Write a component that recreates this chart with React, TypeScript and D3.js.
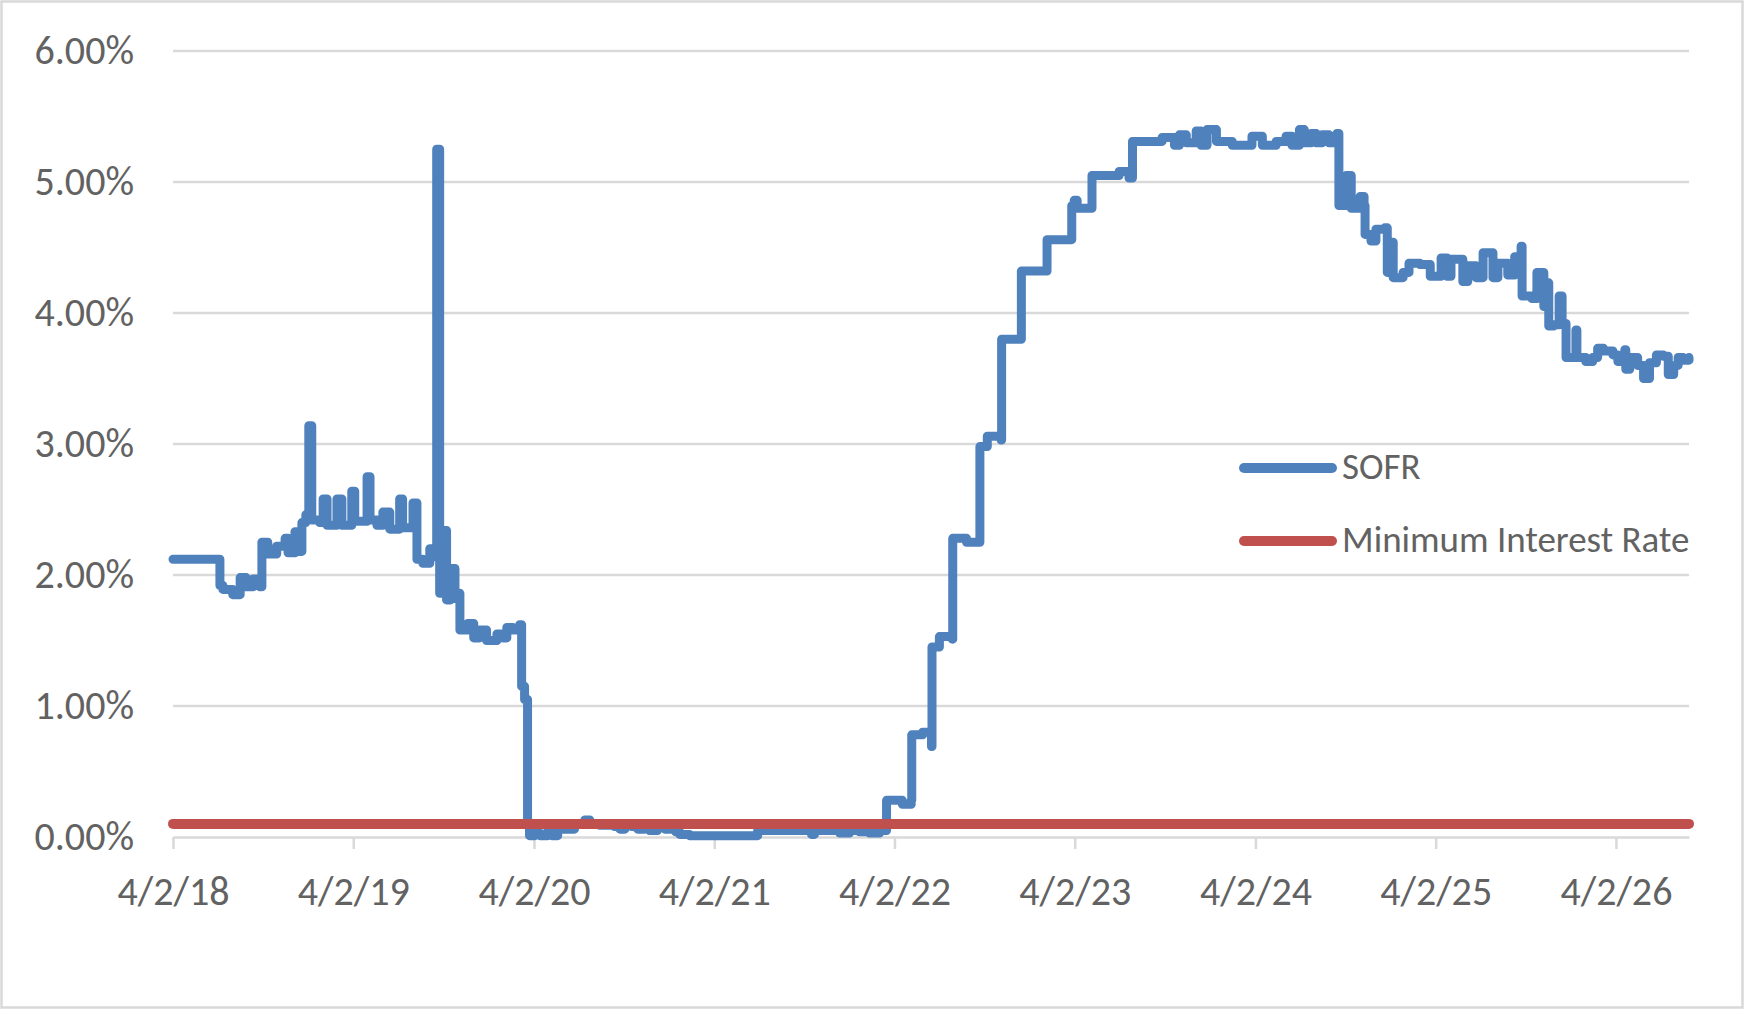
import * as d3 from "d3";
import { useEffect, useRef } from "react";

// SOFR daily fixings (date, percent)
const sofr: [string, number][] = [
  ["2018-04-02", 2.12], ["2018-07-02", 2.12], ["2018-07-06", 1.92], ["2018-07-12", 1.89],
  ["2018-08-01", 1.85], ["2018-08-16", 1.98], ["2018-08-28", 1.91], ["2018-09-11", 1.97],
  ["2018-09-25", 1.91], ["2018-09-29", 2.25], ["2018-10-11", 2.16], ["2018-10-29", 2.22],
  ["2018-11-15", 2.28], ["2018-11-21", 2.17], ["2018-12-05", 2.33], ["2018-12-11", 2.18],
  ["2018-12-19", 2.40], ["2018-12-27", 2.46], ["2019-01-02", 3.14], ["2019-01-08", 2.42],
  ["2019-01-24", 2.40], ["2019-01-31", 2.58], ["2019-02-08", 2.38], ["2019-02-28", 2.58],
  ["2019-03-10", 2.38], ["2019-03-30", 2.64], ["2019-04-05", 2.41], ["2019-04-30", 2.75],
  ["2019-05-06", 2.42], ["2019-05-20", 2.38], ["2019-06-01", 2.48], ["2019-06-15", 2.35],
  ["2019-07-05", 2.58], ["2019-07-11", 2.36], ["2019-08-01", 2.55], ["2019-08-09", 2.12],
  ["2019-08-21", 2.09], ["2019-09-04", 2.20], ["2019-09-12", 2.14], ["2019-09-18", 5.25],
  ["2019-09-24", 1.86], ["2019-09-30", 2.34], ["2019-10-08", 1.81], ["2019-10-16", 2.05],
  ["2019-10-25", 1.82], ["2019-10-29", 1.86], ["2019-11-04", 1.58], ["2019-11-20", 1.63],
  ["2019-12-02", 1.52], ["2019-12-14", 1.58], ["2019-12-28", 1.50], ["2020-01-18", 1.55],
  ["2020-01-30", 1.52], ["2020-02-07", 1.60], ["2020-02-19", 1.58], ["2020-03-04", 1.62],
  ["2020-03-08", 1.15], ["2020-03-14", 1.05], ["2020-03-20", 0.10], ["2020-03-24", 0.01],
  ["2020-04-04", 0.03], ["2020-04-14", 0.01], ["2020-04-30", 0.05], ["2020-05-08", 0.01],
  ["2020-05-20", 0.06], ["2020-06-03", 0.06], ["2020-06-23", 0.10], ["2020-07-14", 0.13],
  ["2020-07-24", 0.10], ["2020-08-13", 0.09], ["2020-09-02", 0.10], ["2020-09-12", 0.08],
  ["2020-09-23", 0.06], ["2020-10-03", 0.09], ["2020-10-17", 0.08], ["2020-10-29", 0.06],
  ["2020-11-12", 0.09], ["2020-11-22", 0.05], ["2020-12-08", 0.08], ["2020-12-23", 0.06],
  ["2021-01-06", 0.10], ["2021-01-14", 0.04], ["2021-01-22", 0.02], ["2021-02-11", 0.01],
  ["2021-04-13", 0.01], ["2021-06-25", 0.01], ["2021-06-29", 0.05], ["2021-08-12", 0.05],
  ["2021-09-22", 0.05], ["2021-10-16", 0.02], ["2021-10-22", 0.05], ["2021-11-21", 0.05],
  ["2021-12-12", 0.03], ["2022-01-01", 0.05], ["2022-01-21", 0.04], ["2022-02-10", 0.03],
  ["2022-03-03", 0.05], ["2022-03-15", 0.05], ["2022-03-17", 0.28], ["2022-04-18", 0.25],
  ["2022-05-06", 0.28], ["2022-05-07", 0.78], ["2022-05-29", 0.80], ["2022-06-16", 0.69],
  ["2022-06-17", 1.45], ["2022-07-02", 1.53], ["2022-07-28", 1.51], ["2022-07-29", 2.28],
  ["2022-08-26", 2.25], ["2022-09-21", 2.25], ["2022-09-22", 2.98], ["2022-10-07", 3.06],
  ["2022-11-04", 3.03], ["2022-11-05", 3.80], ["2022-12-11", 3.80], ["2022-12-15", 4.32],
  ["2023-02-04", 4.32], ["2023-02-05", 4.56], ["2023-03-26", 4.56], ["2023-03-27", 4.82],
  ["2023-04-01", 4.86], ["2023-04-07", 4.80], ["2023-05-06", 4.80], ["2023-05-07", 5.05],
  ["2023-07-01", 5.08], ["2023-07-21", 5.03], ["2023-07-28", 5.31], ["2023-09-26", 5.34],
  ["2023-10-21", 5.28], ["2023-10-31", 5.36], ["2023-11-14", 5.30], ["2023-12-04", 5.39],
  ["2023-12-14", 5.28], ["2023-12-26", 5.40], ["2024-01-14", 5.31], ["2024-02-15", 5.28],
  ["2024-03-26", 5.35], ["2024-04-16", 5.28], ["2024-05-14", 5.31], ["2024-06-03", 5.35],
  ["2024-06-15", 5.28], ["2024-06-30", 5.40], ["2024-07-10", 5.30], ["2024-07-24", 5.37],
  ["2024-08-03", 5.30], ["2024-08-15", 5.36], ["2024-08-29", 5.30], ["2024-09-14", 5.37],
  ["2024-09-18", 4.82], ["2024-10-03", 5.05], ["2024-10-13", 4.80], ["2024-10-31", 4.89],
  ["2024-11-08", 4.82], ["2024-11-10", 4.60], ["2024-11-22", 4.55], ["2024-12-02", 4.64],
  ["2024-12-20", 4.65], ["2024-12-25", 4.31], ["2024-12-31", 4.54], ["2025-01-06", 4.27],
  ["2025-01-26", 4.31], ["2025-02-07", 4.38], ["2025-03-01", 4.37], ["2025-03-22", 4.28],
  ["2025-04-13", 4.42], ["2025-04-25", 4.28], ["2025-05-03", 4.41], ["2025-05-27", 4.24],
  ["2025-06-06", 4.36], ["2025-06-23", 4.27], ["2025-07-07", 4.46], ["2025-07-27", 4.27],
  ["2025-08-06", 4.38], ["2025-08-26", 4.29], ["2025-09-09", 4.43], ["2025-09-22", 4.51],
  ["2025-09-24", 4.13], ["2025-10-14", 4.11], ["2025-10-24", 4.31], ["2025-11-03", 4.31],
  ["2025-11-07", 4.05], ["2025-11-13", 4.23], ["2025-11-17", 3.90], ["2025-11-27", 3.91],
  ["2025-12-08", 4.13], ["2025-12-14", 3.92], ["2025-12-22", 3.66], ["2026-01-03", 3.66],
  ["2026-01-11", 3.87], ["2026-01-13", 3.66], ["2026-01-31", 3.63], ["2026-02-14", 3.66],
  ["2026-02-24", 3.73], ["2026-03-08", 3.71], ["2026-03-27", 3.68], ["2026-04-06", 3.63],
  ["2026-04-20", 3.72], ["2026-04-22", 3.57], ["2026-04-30", 3.66], ["2026-05-16", 3.60],
  ["2026-05-28", 3.50], ["2026-06-09", 3.62], ["2026-06-23", 3.68], ["2026-07-07", 3.67],
  ["2026-07-17", 3.53], ["2026-07-28", 3.60], ["2026-08-06", 3.66], ["2026-08-16", 3.64],
  ["2026-08-28", 3.66],
];

const minimumRate = 0.1;
const yTicks = [0, 1, 2, 3, 4, 5, 6];
const xTicks = [
  "2018-04-02", "2019-04-02", "2020-04-02", "2021-04-02", "2022-04-02",
  "2023-04-02", "2024-04-02", "2025-04-02", "2026-04-02",
];
const seriesNames = ["SOFR", "Minimum Interest Rate"];
const seriesColors = ["#4f81bd", "#c0504d"];

const font = "Carlito, 'Liberation Sans Narrow', 'Liberation Sans', sans-serif";
const textColor = "#626262";
const gridColor = "#d9d9d9";

export default function App() {
  const svgRef = useRef<SVGSVGElement | null>(null);

  useEffect(() => {
    const width = 1747;
    const height = 1011;
    const margin = { top: 51, right: 58, bottom: 174, left: 173 };
    const parse = d3.timeParse("%Y-%m-%d");
    const data = sofr.map(([d, v]) => ({ date: parse(d) as Date, value: v }));

    const svg = d3.select(svgRef.current);
    svg.selectAll("*").remove();
    svg.attr("width", width).attr("height", height);

    svg
      .append("rect")
      .attr("x", 1.5)
      .attr("y", 1.5)
      .attr("width", 1741)
      .attr("height", 1006)
      .attr("fill", "#fff")
      .attr("stroke", gridColor)
      .attr("stroke-width", 2.5);

    const x = d3
      .scaleTime()
      .domain(d3.extent(data, (d) => d.date) as [Date, Date])
      .range([margin.left, width - margin.right]);

    const y = d3
      .scaleLinear()
      .domain([0, 6])
      .range([height - margin.bottom, margin.top]);

    // gridlines
    svg
      .selectAll(".grid")
      .data(yTicks.slice(1))
      .enter()
      .append("line")
      .attr("x1", margin.left)
      .attr("x2", width - margin.right)
      .attr("y1", (d) => y(d))
      .attr("y2", (d) => y(d))
      .attr("stroke", gridColor)
      .attr("stroke-width", 2.5);

    // y labels
    svg
      .selectAll(".ylabel")
      .data(yTicks)
      .enter()
      .append("text")
      .attr("x", 134)
      .attr("y", (d) => y(d) + 13)
      .attr("text-anchor", "end")
      .attr("font-family", font)
      .attr("font-size", 40)
      .attr("fill", textColor)
      .text((d) => d3.format(".2f")(d) + "%");

    // x axis
    const xAxis = d3
      .axisBottom<Date>(x)
      .tickValues(xTicks.map((d) => parse(d) as Date))
      .tickFormat(d3.timeFormat("%-m/%-d/%y"))
      .tickSize(12)
      .tickSizeOuter(0)
      .tickPadding(28);

    const gx = svg
      .append("g")
      .attr("transform", `translate(0,${y(0)})`)
      .call(xAxis);
    gx.selectAll("path, line").attr("stroke", gridColor).attr("stroke-width", 2.5);
    gx.selectAll("text")
      .attr("font-family", font)
      .attr("font-size", 40)
      .attr("fill", textColor);

    const line = d3
      .line<{ date: Date; value: number }>()
      .curve(d3.curveStepAfter)
      .x((d) => x(d.date))
      .y((d) => y(d.value));

    svg
      .append("path")
      .datum(data)
      .attr("fill", "none")
      .attr("stroke", seriesColors[0])
      .attr("stroke-width", 9)
      .attr("stroke-linejoin", "round")
      .attr("stroke-linecap", "round")
      .attr("d", line);

    const floor = data.map((d) => ({ date: d.date, value: minimumRate }));
    svg
      .append("path")
      .datum(floor)
      .attr("fill", "none")
      .attr("stroke", seriesColors[1])
      .attr("stroke-width", 10)
      .attr("stroke-linecap", "round")
      .attr("d", line);

    // legend
    const legendY = [468, 541];
    seriesNames.forEach((name, i) => {
      svg
        .append("line")
        .attr("x1", 1244)
        .attr("x2", 1332)
        .attr("y1", legendY[i])
        .attr("y2", legendY[i])
        .attr("stroke", seriesColors[i])
        .attr("stroke-width", 10)
        .attr("stroke-linecap", "round");
      svg
        .append("text")
        .attr("x", 1342)
        .attr("y", legendY[i] + 11)
        .attr("font-family", font)
        .attr("font-size", 37)
        .attr("fill", textColor)
        .text(name);
    });
  }, []);

  return (
    <svg
      ref={svgRef}
      style={{ position: "absolute", left: 0, top: 0, display: "block" }}
    ></svg>
  );
}
